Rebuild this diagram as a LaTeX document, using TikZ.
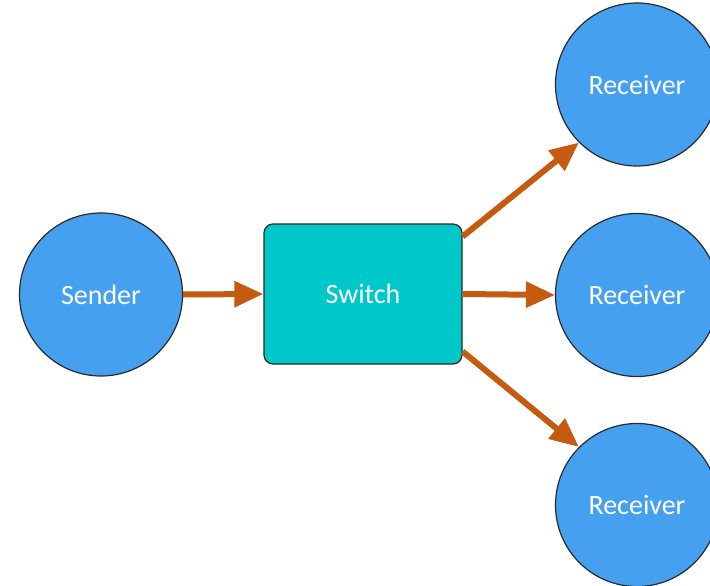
\documentclass[tikz,border=0pt]{standalone}
\usepackage{fontspec}
\setmainfont{Carlito}
\usetikzlibrary{arrows.meta}
\definecolor{circblue}{HTML}{46A0F0}
\definecolor{swcyan}{HTML}{00C8C8}
\definecolor{arrorange}{HTML}{C55A11}
\definecolor{edgegray}{HTML}{2A2A2A}
\tikzset{
  endpoint/.style={circle, draw=edgegray, line width=1.2pt, fill=circblue,
    minimum size=163pt, inner sep=0pt, text=white, font=\fontsize{28}{32}\selectfont},
  switchbox/.style={rectangle, rounded corners=9pt, draw=edgegray, line width=1.2pt, fill=swcyan,
    minimum width=198pt, minimum height=140pt, inner sep=0pt, text=white, font=\fontsize{28}{32}\selectfont},
  flow/.style={draw=arrorange, line width=6pt, -{Triangle[length=29pt,width=25pt]}, arrorange}
}
\begin{document}
\begin{tikzpicture}[x=1pt,y=-1pt]
\clip (0,0) rectangle (710,586);
\node[endpoint] (snd) at (101,294.5) {Sender};
\node[switchbox] (sw) at (363,294) {Switch};
\node[endpoint] (r1) at (637,84.5) {Receiver};
\node[endpoint] (r2) at (637,295) {Receiver};
\node[endpoint] (r3) at (637,505) {Receiver};
\draw[flow] (snd.east) -- (sw.west);
\draw[flow] (sw.east) -- (r2.west);
\draw[flow] (sw.30) -- (r1.225);
\draw[flow] (sw.-30) -- (r3.135);
\end{tikzpicture}
\end{document}
